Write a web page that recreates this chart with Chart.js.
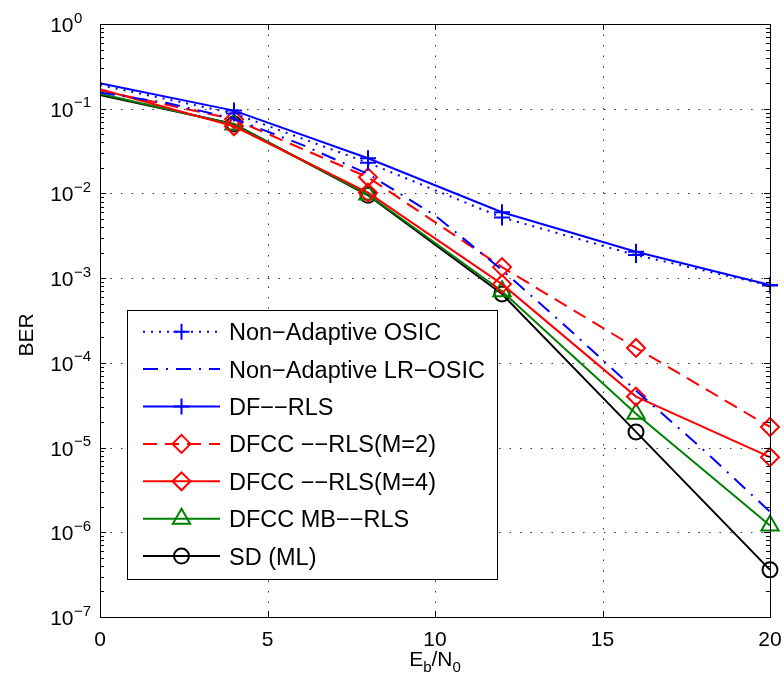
<!DOCTYPE html>
<html><head><meta charset="utf-8">
<script src="https://cdn.jsdelivr.net/npm/chart.js@4.4.0/dist/chart.umd.min.js"></script>
<style>html,body{margin:0;padding:0;background:#fff}#wrap{width:784px;height:684px}</style>
</head><body><div id="wrap"><canvas id="c" width="784" height="684"></canvas></div>
<script>
// ---- data ----
const snrMarked = [0, 4, 8, 12, 16, 20];
const snrFine = [0, 2, 4, 6, 8, 10, 12, 14, 16, 18, 20];
const berOSIC   = [0.19, 0.088, 0.023, 0.0052, 0.00187, 0.00082];
const berLROSIC = [0.155, 0.117, 0.076, 0.038, 0.017, 0.0055, 0.00125, 0.00025, 0.000047, 0.0000095, 0.00000175];
const berDFRLS  = [0.2, 0.095, 0.026, 0.006, 0.00205, 0.00083];
const berDFCCM2 = [0.165, 0.075, 0.0155, 0.00135, 0.00015, 0.0000175];
const berDFCCM4 = [0.17, 0.062, 0.0102, 0.00085, 0.00004, 0.0000077];
const berMB     = [0.15, 0.065, 0.0097, 0.0007, 0.000025, 0.0000012];
const berSD     = [0.145, 0.066, 0.0095, 0.00065, 0.0000153, 0.00000036];
const seriesLabels = ['Non\u2212Adaptive OSIC', 'Non\u2212Adaptive LR\u2212OSIC', 'DF\u2212\u2212RLS',
  'DFCC \u2212\u2212RLS(M=2)', 'DFCC \u2212\u2212RLS(M=4)', 'DFCC MB\u2212\u2212RLS', 'SD (ML)'];
const xTickValues = [0, 5, 10, 15, 20];
const yTickExponents = [0, -1, -2, -3, -4, -5, -6, -7];

const FONT = '"Liberation Sans", Arial, Helvetica, sans-serif';
const BLUE = '#0000ff', RED = '#ff0000', GREEN = '#008000', BLACK = '#000000';

function pts(xs, ys) { return xs.map((x, i) => ({x: x, y: ys[i]})); }
function ds(label, xs, ys, color, dash, style, r, w) {
  return {label: label, data: pts(xs, ys), borderColor: color, backgroundColor: 'rgba(0,0,0,0)',
    borderWidth: w || 2, borderDash: dash, pointStyle: style || false,
    pointRadius: xs.map(x => (style && x > 0) ? r : 0), markerRadius: r,
    pointBorderWidth: 2, pointBorderColor: color, pointBackgroundColor: 'rgba(0,0,0,0)',
    tension: 0, clip: false, fill: false};
}
const datasets = [
  ds(seriesLabels[0], snrMarked, berOSIC, BLUE, [2, 6], 'cross', 8, 2),
  ds(seriesLabels[1], snrFine, berLROSIC, BLUE, [15, 8, 2, 8], false, 0, 2),
  ds(seriesLabels[2], snrMarked, berDFRLS, BLUE, [], 'cross', 8, 2),
  ds(seriesLabels[3], snrMarked, berDFCCM2, RED, [14, 8], 'rectRot', 9, 2),
  ds(seriesLabels[4], snrMarked, berDFCCM4, RED, [], 'rectRot', 9, 2),
  ds(seriesLabels[5], snrMarked, berMB, GREEN, [], 'triangle', 10, 2),
  ds(seriesLabels[6], snrMarked, berSD, BLACK, [], 'circle', 7.5, 2)
];

function drawMarker(ctx, style, x, y, r) {
  ctx.beginPath();
  if (style === 'cross') {
    ctx.moveTo(x, y - r); ctx.lineTo(x, y + r); ctx.moveTo(x - r, y); ctx.lineTo(x + r, y);
  } else if (style === 'rectRot') {
    ctx.moveTo(x - r, y); ctx.lineTo(x, y - r); ctx.lineTo(x + r, y); ctx.lineTo(x, y + r); ctx.closePath();
  } else if (style === 'triangle') {
    ctx.moveTo(x, y - r); ctx.lineTo(x + 0.866 * r, y + 0.5 * r); ctx.lineTo(x - 0.866 * r, y + 0.5 * r); ctx.closePath();
  } else if (style === 'circle') {
    ctx.arc(x, y, r, 0, Math.PI * 2);
  }
  ctx.stroke();
}

const framePlugin = {
  id: 'frame',
  beforeDatasetsDraw(chart) {
    const ctx = chart.ctx, a = chart.chartArea, xs = chart.scales.x, ys = chart.scales.y;
    ctx.save();
    ctx.strokeStyle = '#333'; ctx.lineWidth = 1; ctx.setLineDash([1.5, 9]);
    xTickValues.forEach(v => {
      const px = Math.round(xs.getPixelForValue(v)) + 0.5;
      if (v === xs.min || v === xs.max) return;
      ctx.beginPath(); ctx.moveTo(px, a.top); ctx.lineTo(px, a.bottom); ctx.stroke();
    });
    yTickExponents.forEach(e => {
      const v = Math.pow(10, e);
      if (v === ys.min || v === ys.max) return;
      const py = Math.round(ys.getPixelForValue(v)) + 0.5;
      ctx.beginPath(); ctx.moveTo(a.left, py); ctx.lineTo(a.right, py); ctx.stroke();
    });
    ctx.restore();
  },
  afterDatasetsDraw(chart) {
    const ctx = chart.ctx, a = chart.chartArea, xs = chart.scales.x, ys = chart.scales.y;
    ctx.save();
    ctx.strokeStyle = '#000'; ctx.lineWidth = 1; ctx.setLineDash([]);
    ctx.strokeRect(Math.round(a.left) + 0.5, Math.round(a.top) + 0.5,
      Math.round(a.right - a.left), Math.round(a.bottom - a.top));
    xTickValues.forEach(v => {
      const px = Math.round(xs.getPixelForValue(v)) + 0.5;
      ctx.beginPath(); ctx.moveTo(px, a.bottom); ctx.lineTo(px, a.bottom - 6);
      ctx.moveTo(px, a.top); ctx.lineTo(px, a.top + 6); ctx.stroke();
    });
    yTickExponents.forEach(e => {
      for (let m = 1; m <= 9; m++) {
        const v = m * Math.pow(10, e);
        if (v > ys.max * 1.0001 || v < ys.min * 0.9999) continue;
        const py = Math.round(ys.getPixelForValue(v)) + 0.5;
        const len = m === 1 ? 6 : 4;
        ctx.beginPath(); ctx.moveTo(a.left, py); ctx.lineTo(a.left + len, py);
        ctx.moveTo(a.right, py); ctx.lineTo(a.right - len, py); ctx.stroke();
      }
    });
    ctx.fillStyle = '#000';
    ctx.font = '21px ' + FONT; ctx.textAlign = 'center'; ctx.textBaseline = 'alphabetic';
    xTickValues.forEach(v => {
      ctx.fillText(String(v), xs.getPixelForValue(v), a.bottom + 29);
    });
    yTickExponents.forEach(e => {
      const py = ys.getPixelForValue(Math.pow(10, e));
      ctx.font = '21px ' + FONT; ctx.textAlign = 'right'; ctx.textBaseline = 'alphabetic';
      ctx.fillText('10', 73.5, py + 8);
      ctx.font = '15px ' + FONT; ctx.textAlign = 'left';
      ctx.fillText(e === 0 ? '0' : '\u2212' + String(-e), 74, py - 1.5);
    });
    ctx.save();
    ctx.translate(33, 335);
    ctx.rotate(-Math.PI / 2);
    ctx.font = '21px ' + FONT; ctx.textAlign = 'center'; ctx.textBaseline = 'alphabetic';
    ctx.fillText('BER', 0, 0);
    ctx.restore();
    const parts = [['E', 21, 0], ['b', 15, 6], ['/N', 21, 0], ['0', 15, 6]];
    let total = 0;
    parts.forEach(p => { ctx.font = p[1] + 'px ' + FONT; total += ctx.measureText(p[0]).width; });
    let cx = (a.left + a.right) / 2 - total / 2;
    ctx.textAlign = 'left';
    parts.forEach(p => {
      ctx.font = p[1] + 'px ' + FONT;
      ctx.fillText(p[0], cx, 666 + p[2]);
      cx += ctx.measureText(p[0]).width;
    });
    const L = {x0: 127.5, y0: 310.5, x1: 497.5, y1: 579.5};
    ctx.fillStyle = '#fff';
    ctx.fillRect(L.x0, L.y0, L.x1 - L.x0, L.y1 - L.y0);
    ctx.strokeStyle = '#000'; ctx.lineWidth = 1;
    ctx.strokeRect(L.x0, L.y0, L.x1 - L.x0, L.y1 - L.y0);
    chart.data.datasets.forEach((d, i) => {
      const yy = 331.7 + i * 37.4;
      ctx.strokeStyle = d.borderColor; ctx.lineWidth = d.borderWidth;
      ctx.setLineDash(d.borderDash || []);
      ctx.beginPath(); ctx.moveTo(143, yy); ctx.lineTo(220, yy); ctx.stroke();
      ctx.setLineDash([]);
      if (d.pointStyle) { ctx.lineWidth = d.pointBorderWidth; drawMarker(ctx, d.pointStyle, 181.5, yy, d.markerRadius); }
      ctx.fillStyle = '#000'; ctx.font = '23.5px ' + FONT; ctx.textAlign = 'left'; ctx.textBaseline = 'alphabetic';
      ctx.fillText(d.label, 229, yy + 8.5);
    });
    ctx.restore();
  }
};

new Chart(document.getElementById('c').getContext('2d'), {
  type: 'line',
  data: {datasets: datasets},
  options: {
    responsive: false, animation: false,
    layout: {padding: {top: 24, right: 14, left: 0, bottom: 0}},
    plugins: {legend: {display: false}, tooltip: {enabled: false}},
    scales: {
      x: {type: 'linear', min: 0, max: 20, ticks: {display: false}, grid: {display: false}, border: {display: false},
          afterFit: s => { s.height = 67; }},
      y: {type: 'logarithmic', min: 1e-7, max: 1, ticks: {display: false}, grid: {display: false}, border: {display: false},
          afterFit: s => { s.width = 100; }}
    }
  },
  plugins: [framePlugin]
});
</script></body></html>
